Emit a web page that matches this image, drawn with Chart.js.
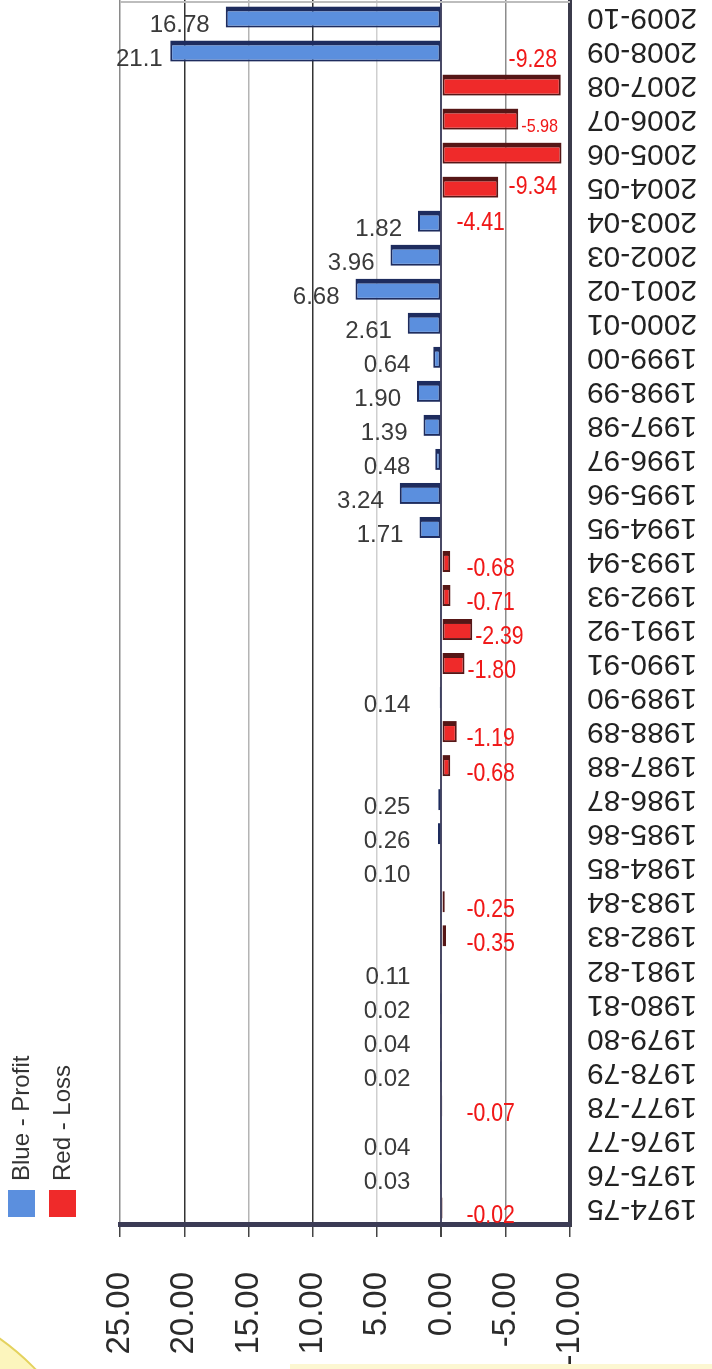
<!DOCTYPE html>
<html>
<head>
<meta charset="utf-8">
<title>Profit and loss, 1974-75 to 2009-10</title>
<script src="https://cdn.jsdelivr.net/npm/chart.js@4.4.1/dist/chart.umd.min.js"></script>
<style>
  html, body { margin: 0; padding: 0; background: #fff; }
  #page { position: relative; width: 712px; height: 1369px; overflow: hidden; background: #fff; }
  /* the chart is drawn upright, then turned a quarter turn like the scan */
  #myChart { position: absolute; left: 0; top: 0; transform-origin: 0 0; transform: translate(0, 1369px) rotate(-90deg); }
  /* bits of the yellow page showing at the bottom of the scan */
  .paper { position: absolute; left: -410px; top: 1290px; width: 520px; height: 520px; border-radius: 50%;
    background: #fcf5bd; border: 2px solid #e4d25e; box-sizing: border-box; }
  .strip { position: absolute; left: 290px; top: 1364px; width: 422px; height: 5px; background: #fcf7d2; }
</style>
</head>
<body>
<div id="page">
  <div class="paper"></div>
  <div class="strip"></div>
  <canvas id="myChart" width="1369" height="712"></canvas>
</div>
<script>
var years = ["1974-75", "1975-76", "1976-77", "1977-78", "1978-79", "1979-80", "1980-81", "1981-82",
  "1982-83", "1983-84", "1984-85", "1985-86", "1986-87", "1987-88", "1988-89", "1989-90", "1990-91",
  "1991-92", "1992-93", "1993-94", "1994-95", "1995-96", "1996-97", "1997-98", "1998-99", "1999-00",
  "2000-01", "2001-02", "2002-03", "2003-04", "2004-05", "2005-06", "2006-07", "2007-08", "2008-09", "2009-10"];

var profit = [null, 0.03, 0.04, null, 0.02, 0.04, 0.02, 0.11, null, null, 0.10, 0.26, 0.25, null, null, 0.14,
  null, null, null, null, 1.71, 3.24, 0.48, 1.39, 1.90, 0.64, 2.61, 6.68, 3.96, 1.82, null, null, null, null, 21.1, 16.78];

var loss = [-0.02, null, null, -0.07, null, null, null, null, -0.35, -0.25, null, null, null, -0.68, -1.19, null,
  -1.80, -2.39, -0.71, -0.68, null, null, null, null, null, null, null, null, null, null, -4.41, -9.34, -5.98, -9.28, null, null];

var valueTicks = [-10, -5, 0, 5, 10, 15, 20, 25];

var FONT = "'Liberation Sans', Arial, sans-serif";

// write text the right way up in the turned picture (X across, Y down)
function putText(ctx, W, text, X, Y, align, sx, sy) {
  ctx.save();
  ctx.translate(W - Y, X);
  ctx.rotate(Math.PI / 2);
  ctx.scale(sx, sy);
  ctx.textAlign = align;
  ctx.textBaseline = 'middle';
  ctx.fillText(text, 0, 0);
  ctx.restore();
}

var valueLabels = {
  id: 'valueLabels',
  beforeDatasetsDraw: function(chart) {
    var ctx = chart.ctx, W = chart.width, ys = chart.scales.y;
    var zeroX = ys.getPixelForValue(0), wallX = ys.bottom;
    var blue = chart.getDatasetMeta(0).data, red = chart.getDatasetMeta(1).data;
    var lastRedY = -100;
    for (var i = years.length - 1; i >= 0; i--) {
      if (profit[i] !== null) {
        var b = blue[i], t = profit[i].toFixed(2);
        ctx.fillStyle = '#3a3a3a';
        ctx.font = '24px ' + FONT;
        var right = Math.min(b.y - 16, zeroX - 31);
        // too long for the space left of the bar: use the short form
        if (right - ctx.measureText(t).width < ys.top) t = String(profit[i]);
        var bw = ctx.measureText(t).width;
        if (right - bw < ys.top - 4) right = ys.top - 4 + bw;
        putText(ctx, W, t, right, W - b.x + 8, 'right', 1, 1);
      }
      if (loss[i] !== null) {
        var r = red[i], rowY = W - r.x, txt = loss[i].toFixed(2);
        ctx.fillStyle = '#f01818';
        ctx.font = '25px ' + FONT;
        var w = ctx.measureText(txt).width * 0.85;
        var left = Math.max(r.y + 3, zeroX + 25);
        var room = wallX - 12 - left;
        if (room < w * 0.6) {
          // no room before the wall: set it beside the bar end, in a free row
          var Y = (i + 1 < years.length && loss[i + 1] === null) ? rowY - 25 : rowY + 34;
          putText(ctx, W, txt, Math.min(r.y, wallX - 13), Y, 'right', 0.85, 1);
          lastRedY = Y;
        } else {
          var Y2 = rowY + 8, X2 = left, k = Math.min(1, room / w);
          if (Y2 < lastRedY + 30) { Y2 = lastRedY + 36; X2 = zeroX + 15; k = 1; }
          putText(ctx, W, txt, X2, Y2, 'left', 0.85 * k, k);
          lastRedY = Y2;
        }
      }
    }
  },
  afterDraw: function(chart) {
    var ctx = chart.ctx, ca = chart.chartArea;
    // thin frame line along the far end of the plot
    ctx.save();
    ctx.strokeStyle = '#bdbdbd';
    ctx.lineWidth = 2;
    ctx.beginPath();
    ctx.moveTo(ca.right - 2, ca.top);
    ctx.lineTo(ca.right - 2, ca.bottom);
    ctx.stroke();
    // legend, stacked the way the scan shows it
    chart.data.datasets.forEach(function(ds, k) {
      var top = 8 + k * 41;
      ctx.fillStyle = ds.backgroundColor;
      ctx.fillRect(ca.left + 8, top, 27, 27);
      ctx.fillStyle = '#333';
      ctx.font = '24px ' + FONT;
      ctx.textAlign = 'left';
      ctx.textBaseline = 'middle';
      ctx.fillText(ds.label, ca.left + 44, top + 14);
    });
    ctx.restore();
  }
};

function gridColour(c) {
  var v = c.tick ? c.tick.value : null;
  if (v === 20 || v === 10) return '#333';
  if (v === 0) return '#4a4a66';
  if (v === 25) return '#8a8a8a';
  if (v === -5) return '#8c8c8c';
  if (v === 5) return '#cfcfcf';
  return '#b4b4b4';
}

var barBorder = { top: 2, bottom: 2, left: 2, right: 5 };

var ctx = document.getElementById("myChart").getContext('2d');
var myChart = new Chart(ctx, {
  type: 'bar',
  data: {
    labels: years,
    datasets: [{
      label: 'Blue - Profit',
      data: profit,
      backgroundColor: "#5b8fde",
      borderColor: "#1e2c5e",
      borderWidth: barBorder,
      borderSkipped: false,
      grouped: false,
      barPercentage: 0.62,
      categoryPercentage: 1
    }, {
      label: 'Red - Loss',
      data: loss,
      backgroundColor: "#ef2a2a",
      borderColor: "#561616",
      borderWidth: barBorder,
      borderSkipped: false,
      grouped: false,
      barPercentage: 0.62,
      categoryPercentage: 1
    }]
  },
  options: {
    responsive: false,
    animation: false,
    layout: { padding: { top: 120, right: 0, bottom: 0, left: 0 } },
    plugins: { legend: { display: false }, tooltip: { enabled: false } },
    scales: {
      x: {
        grid: { display: false, drawTicks: false },
        border: { display: true, color: '#3b3b4b', width: 4 },
        ticks: { autoSkip: false, minRotation: 90, maxRotation: 90, padding: 17, color: '#222',
          font: { family: FONT, size: 30 } },
        afterFit: function(s) { s.height = 142; s.paddingLeft = 0; s.paddingRight = 0; }
      },
      y: {
        min: -10,
        max: 25,
        afterBuildTicks: function(s) { s.ticks = valueTicks.map(function(v) { return { value: v }; }); },
        grid: { color: gridColour, lineWidth: function(c) { return c.tick && c.tick.value === 0 ? 2 : 1.5; },
          tickLength: 12, tickColor: '#444' },
        border: { display: true, color: '#3b3b55', width: 5 },
        ticks: { padding: 35, color: '#2b2b2b', font: { family: FONT, size: 33 },
          callback: function(v) { return Number(v).toFixed(2); } },
        afterFit: function(s) { s.width = 144; s.paddingTop = 0; s.paddingBottom = 0; }
      }
    }
  },
  plugins: [valueLabels]
});
</script>
</body>
</html>
